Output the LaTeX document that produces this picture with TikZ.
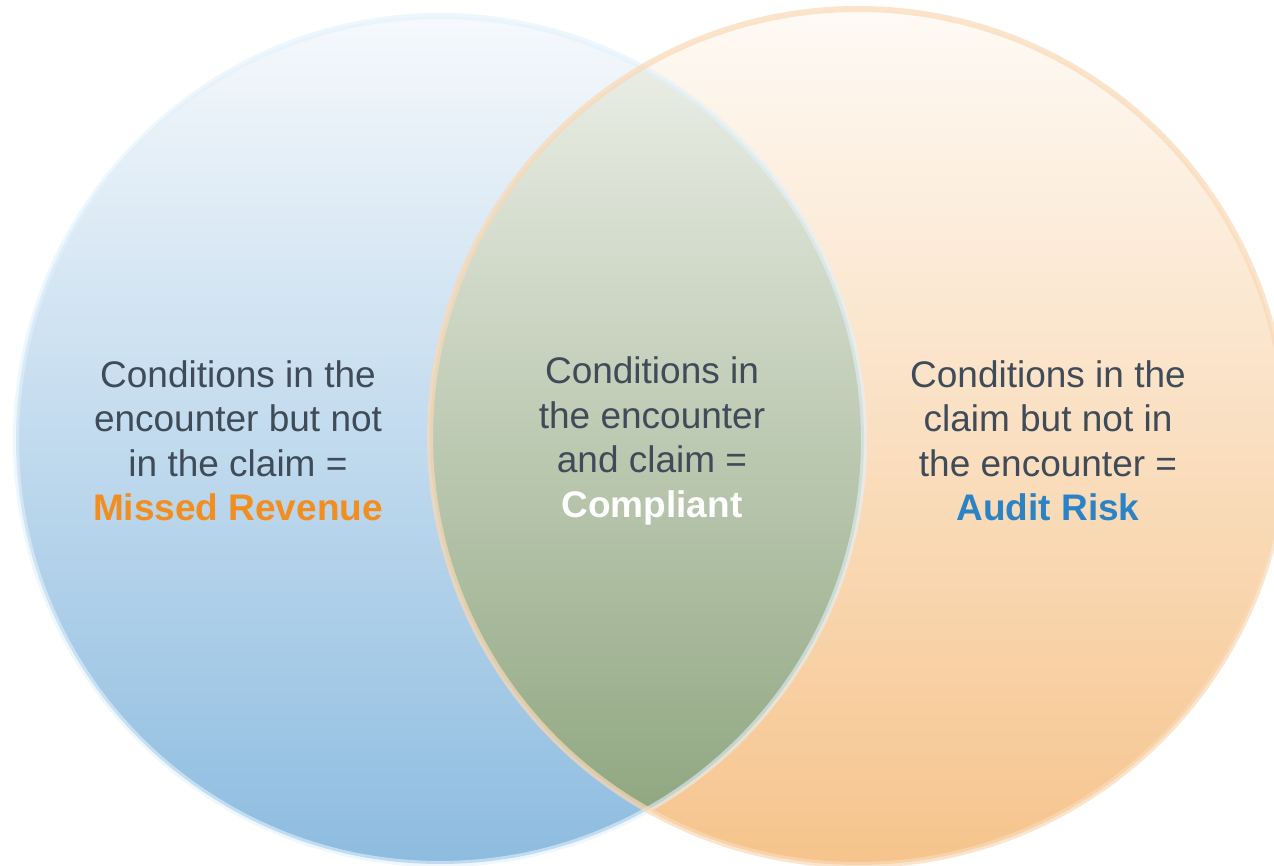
\documentclass[tikz,border=0pt]{standalone}
\usepackage{fontspec}
\setmainfont{Liberation Sans}
\definecolor{txt}{HTML}{3F4B58}
\definecolor{orng}{HTML}{F28E1F}
\definecolor{blu}{HTML}{2B83C6}
\definecolor{ltop}{HTML}{F6F9FC}
\definecolor{lbot}{HTML}{8DBCE0}
\definecolor{rtop}{HTML}{FEFAF5}
\definecolor{rbot}{HTML}{F6C48C}
\definecolor{gtop}{HTML}{F0F2EC}
\definecolor{gmid}{HTML}{B6C4A8}
\definecolor{gbot}{HTML}{8AA27A}
\definecolor{lbord}{HTML}{E2F1FB}
\definecolor{rbord}{HTML}{FAD9B6}
\tikzset{
  lbl/.style={align=center, inner sep=0pt, text=txt, font=\fontsize{37}{44.5}\selectfont},
}
\begin{document}
\begin{tikzpicture}[x=1pt,y=1pt]
\useasboundingbox (0,0) rectangle (1274,866);
\coordinate (lc) at (440,426);
\coordinate (rc) at (858,429);
% left circle
\shade[top color=ltop, bottom color=lbot] (lc) circle[radius=424];
% right circle
\shade[top color=rtop, bottom color=rbot] (rc) circle[radius=428];
% lens
\begin{scope}
  \clip (lc) circle[radius=424];
  \shade[top color=gtop, middle color=gmid, bottom color=gbot] (rc) circle[radius=428];
\end{scope}
% borders
\draw[lbord, line width=6, opacity=0.6] (lc) circle[radius=424];
\draw[rbord, line width=6, opacity=0.7] (rc) circle[radius=428];
% labels
\node[lbl] (ltext) at (238,425) {Conditions in the\\encounter but not\\in the claim =\\\textcolor{orng}{\textbf{Missed Revenue}}};
\node[lbl] (mtext) at (652,425) {Conditions in\\the encounter\\and claim =\\\textcolor{white}{\textbf{Compliant}}};
\node[lbl] (rtext) at (1048,425) {Conditions in the\\claim but not in\\the encounter =\\\textcolor{blu}{\textbf{Audit Risk}}};
\end{tikzpicture}
\end{document}
